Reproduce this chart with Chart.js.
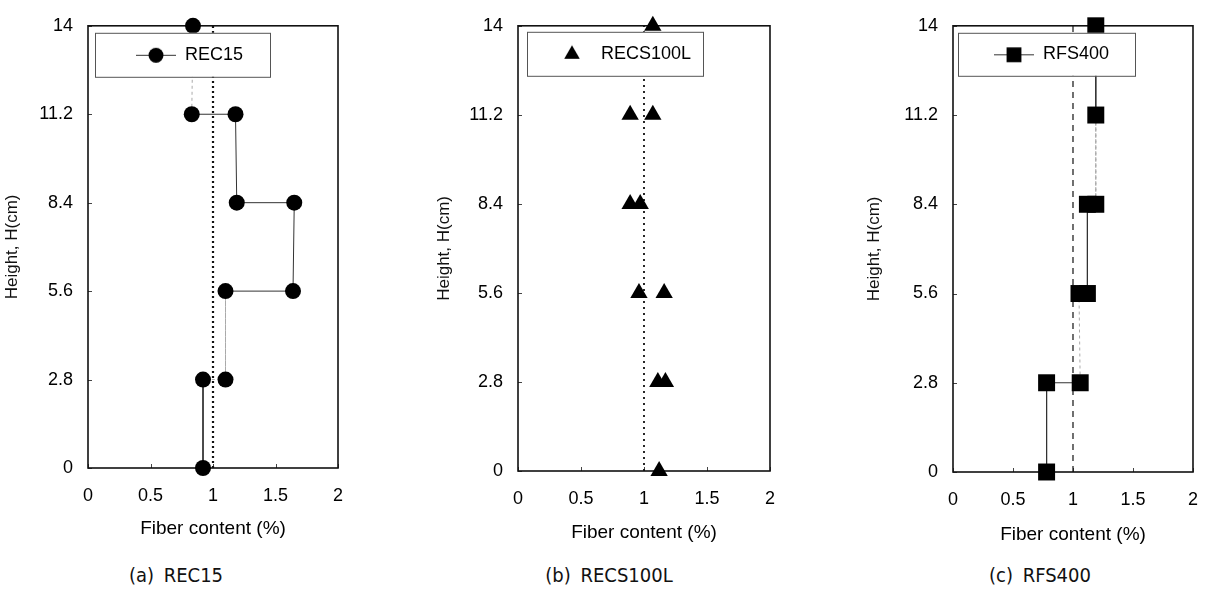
<!DOCTYPE html>
<html>
<head>
<meta charset="utf-8">
<script src="https://cdn.jsdelivr.net/npm/chart.js@4.4.0/dist/chart.umd.min.js"></script>
<style>
  body { margin: 0; background: #fff; width: 1215px; height: 589px; position: relative; overflow: hidden; }
  canvas { position: absolute; top: 0; }
  .cap { position: absolute; top: 563px; transform: translateX(-50%); font-family: 'DejaVu Sans Condensed', 'Liberation Sans Narrow', sans-serif; font-size: 20px; line-height: 24px; color: #111; white-space: nowrap; word-spacing: 4px; }
</style>
</head>
<body>
<canvas id="chartA" width="400" height="543" style="left:0px"></canvas>
<canvas id="chartB" width="360" height="547" style="left:432px"></canvas>
<canvas id="chartC" width="353" height="549" style="left:862px"></canvas>
<div class="cap" style="left:176px">(a) REC15</div>
<div class="cap" style="left:609px">(b) RECS100L</div>
<div class="cap" style="left:1040px">(c) RFS400</div>
<script>
// axes
const heightTicks = [0, 2.8, 5.6, 8.4, 11.2, 14];
const heightLabels = ['0', '2.8', '5.6', '8.4', '11.2', '14'];
const fiberTicks = [0, 0.5, 1, 1.5, 2];
const fiberLabels = ['0', '0.5', '1', '1.5', '2'];
const designFiber = 1;

// measured profiles, read from top of specimen down
const rec15Fiber = [0.84, 0.83, 1.18, 1.19, 1.65, 1.64, 1.10, 1.10, 0.92, 0.92];
const rec15Height = [14, 11.2, 11.2, 8.4, 8.4, 5.6, 5.6, 2.8, 2.8, 0];

const recs100Fiber = [1.07, 0.89, 1.07, 0.89, 0.97, 0.96, 1.16, 1.11, 1.17, 1.12];
const recs100Height = [14, 11.2, 11.2, 8.4, 8.4, 5.6, 5.6, 2.8, 2.8, 0];

const rfs400Fiber = [1.19, 1.19, 1.19, 1.12, 1.12, 1.05, 1.06, 0.78, 0.78];
const rfs400Height = [14, 11.2, 8.4, 8.4, 5.6, 5.6, 2.8, 2.8, 0];

Chart.defaults.font.family = "'Liberation Sans', Arial, sans-serif";
Chart.defaults.color = '#000';

function toPoints(xs, ys) {
  return xs.map((x, i) => ({x: x, y: ys[i]}));
}

function makeIcon(style, radius, withLine) {
  const c = document.createElement('canvas');
  c.width = 40; c.height = 20;
  const g = c.getContext('2d');
  if (withLine) {
    g.strokeStyle = '#333'; g.lineWidth = 1;
    g.beginPath(); g.moveTo(0, 10.5); g.lineTo(40, 10.5); g.stroke();
  }
  g.fillStyle = '#000';
  Chart.helpers.drawPoint(g, {pointStyle: style, radius: radius, borderWidth: 0, rotation: 0}, 20, 10.5);
  return c;
}

// frame around the plot area + small inward ticks
const framePlugin = {
  id: 'frame',
  beforeDatasetsDraw(chart) {
    const {ctx, chartArea: a, scales: {x, y}} = chart;
    ctx.save();
    ctx.strokeStyle = '#444';
    ctx.lineWidth = 1;
    ctx.beginPath();
    heightTicks.forEach(v => {
      const py = Math.round(y.getPixelForValue(v)) + 0.5;
      ctx.moveTo(a.left, py); ctx.lineTo(a.left + 4, py);
    });
    fiberTicks.forEach(v => {
      const px = Math.round(x.getPixelForValue(v)) + 0.5;
      ctx.moveTo(px, a.bottom); ctx.lineTo(px, a.bottom - 4);
    });
    ctx.stroke();
    ctx.strokeStyle = '#111';
    ctx.lineWidth = 1.6;
    ctx.strokeRect(a.left, a.top, a.right - a.left, a.bottom - a.top);
    ctx.restore();
  }
};

// legend sits inside the plot, in a white box drawn over the data
function legendBoxPlugin(box) {
  return {
    id: 'legendBox',
    beforeUpdate(chart) {
      const lg = chart.legend;
      if (!lg || lg._boxPatched) return;
      lg._boxPatched = true;
      lg._layers = () => [{
        z: 1,
        draw(area) {
          const ctx = chart.ctx, a = chart.chartArea;
          const bx = a.left + box.dx, by = a.top + box.dy;
          ctx.save();
          ctx.fillStyle = '#fff';
          ctx.fillRect(bx, by, box.w, box.h);
          ctx.strokeStyle = '#555';
          ctx.lineWidth = 1;
          ctx.strokeRect(bx + 0.5, by + 0.5, box.w, box.h);
          ctx.restore();
          const pad = lg.options.labels.padding;
          const w = lg.width, h = lg.height;
          lg.left = a.left + box.itemX - pad;
          lg.top = a.top + box.itemY - 9 - pad;
          lg.right = lg.left + w;
          lg.bottom = lg.top + h;
          lg.draw(area);
        }
      }];
    }
  };
}

function buildPanel(id, p) {
  const icon = makeIcon(p.pointStyle, p.iconRadius, p.showLine);
  new Chart(document.getElementById(id), {
    type: 'scatter',
    data: {
      datasets: [
        {
          label: p.label,
          data: toPoints(p.fiber, p.height),
          showLine: p.showLine,
          borderColor: '#333',
          borderWidth: 1,
          pointStyle: p.pointStyle,
          pointRadius: p.radius,
          pointBackgroundColor: '#000',
          pointBorderColor: '#000',
          pointBorderWidth: 0,
          clip: false,
          segment: {
            borderColor: c => p.faint.includes(c.p0DataIndex) ? '#aaa' : undefined,
            borderDash: c => p.faint.includes(c.p0DataIndex) ? [3, 3] : undefined
          }
        },
        {
          label: 'design',
          data: toPoints([designFiber, designFiber], [heightTicks[0], heightTicks[heightTicks.length - 1]]),
          showLine: true,
          borderColor: '#111',
          borderWidth: p.refWidth,
          borderDash: p.refDash,
          pointRadius: 0,
          clip: false
        }
      ]
    },
    options: {
      responsive: false,
      animation: false,
      events: [],
      layout: {padding: {top: 16, right: p.padRight, left: 0, bottom: 0}},
      scales: {
        x: {
          type: 'linear', min: 0, max: 2,
          afterBuildTicks: s => { s.ticks = fiberTicks.map(v => ({value: v})); },
          afterFit: s => { s.height = p.xAxisHeight; },
          grid: {display: false, drawTicks: false},
          border: {display: false},
          ticks: {padding: 17, font: {size: 18}, color: '#000', callback: (v, i) => fiberLabels[i]},
          title: {display: true, text: 'Fiber content (%)', font: {size: 19}, color: '#000', padding: {top: 4, bottom: 3}}
        },
        y: {
          type: 'linear', min: 0, max: 14,
          afterBuildTicks: s => { s.ticks = heightTicks.map(v => ({value: v})); },
          afterFit: s => { s.width = p.yAxisWidth; },
          grid: {display: false, drawTicks: false},
          border: {display: false},
          ticks: {padding: 15, font: {size: 18}, color: '#000', callback: (v, i) => heightLabels[i]},
          title: {display: true, text: 'Height, H(cm)', font: {size: 17}, color: '#111', padding: {top: 2, bottom: 2}}
        }
      },
      plugins: {
        tooltip: {enabled: false},
        legend: {
          position: 'chartArea',
          align: 'start',
          labels: {
            padding: 10,
            usePointStyle: true,
            pointStyleWidth: 40,
            font: {size: 18},
            color: '#000',
            filter: item => item.datasetIndex === 0,
            generateLabels: chart => {
              const items = Chart.defaults.plugins.legend.labels.generateLabels(chart);
              items.forEach(it => { it.pointStyle = icon; });
              return items;
            }
          }
        }
      }
    },
    plugins: [framePlugin, legendBoxPlugin(p.box)]
  });
}

buildPanel('chartA', {
  label: 'REC15', fiber: rec15Fiber, height: rec15Height,
  pointStyle: 'circle', radius: 8, iconRadius: 7.5, showLine: true, faint: [0, 6, 7],
  refWidth: 2.2, refDash: [2, 3],
  yAxisWidth: 88, xAxisHeight: 75, padRight: 62,
  box: {dx: 7, dy: 7, w: 175, h: 44, itemX: 48, itemY: 29}
});

buildPanel('chartB', {
  label: 'RECS100L', fiber: recs100Fiber, height: recs100Height,
  pointStyle: 'triangle', radius: 10, iconRadius: 9, showLine: false, faint: [],
  refWidth: 1.8, refDash: [2, 4],
  yAxisWidth: 86, xAxisHeight: 76, padRight: 22,
  box: {dx: 9, dy: 6, w: 176, h: 44, itemX: 34, itemY: 28}
});

buildPanel('chartC', {
  label: 'RFS400', fiber: rfs400Fiber, height: rfs400Height,
  pointStyle: 'rect', radius: 12, iconRadius: 10.5, showLine: true, faint: [1, 5],
  refWidth: 1.2, refDash: [6, 5],
  yAxisWidth: 91, xAxisHeight: 77, padRight: 12,
  box: {dx: 5, dy: 7, w: 177, h: 43, itemX: 41, itemY: 28.5}
});
</script>
</body>
</html>
